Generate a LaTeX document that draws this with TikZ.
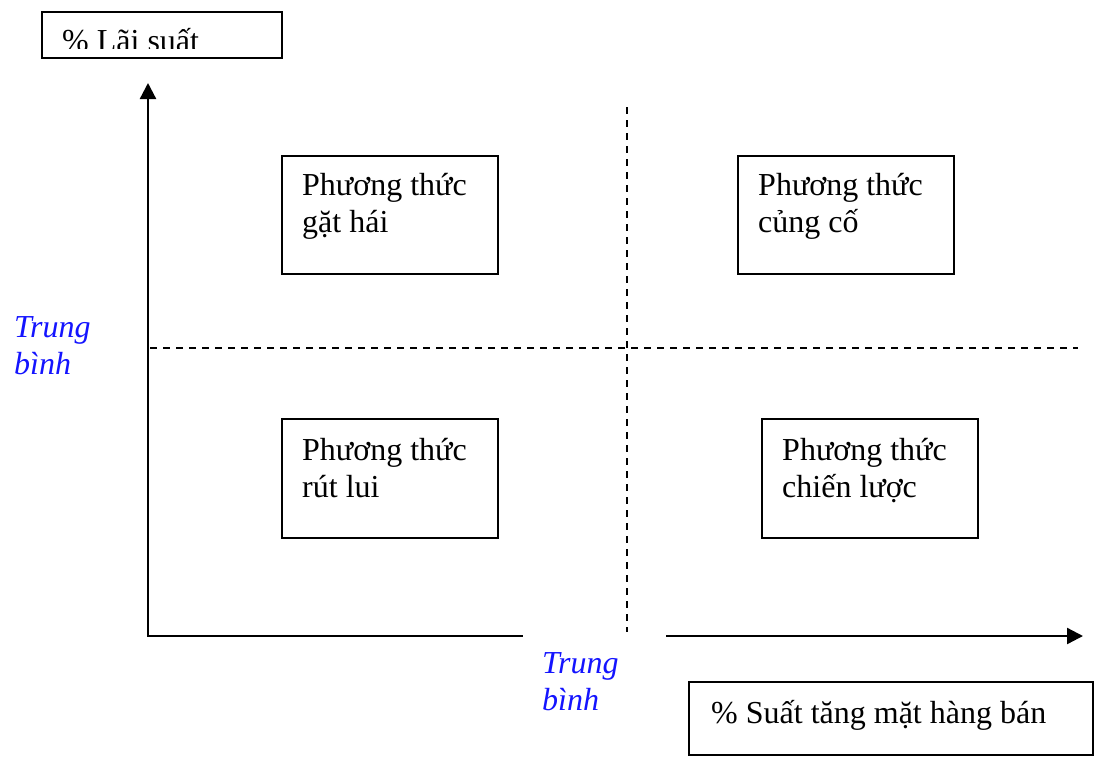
\documentclass[tikz,border=0pt]{standalone}
\usepackage{fontspec}
\setmainfont{Liberation Serif}
\usetikzlibrary{arrows.meta}
\definecolor{lblblue}{RGB}{20,20,255}
\begin{document}
\begin{tikzpicture}[x=1pt,y=-1pt,
  boxnode/.style={draw=black,line width=2.3pt,inner sep=0pt,outer sep=0pt,anchor=north west},
  txt/.style={inner sep=0pt,anchor=base west,font=\fontsize{32}{37}\selectfont},
  bluetxt/.style={txt,text=lblblue,font=\fontsize{32}{37}\selectfont\itshape},
  axisline/.style={line width=2.3pt,line cap=rect},
  dashline/.style={line width=1.5pt,dash pattern=on 7pt off 6pt},
  tip/.style={-{Triangle[length=16pt,width=16pt]}}]
\useasboundingbox (0,0) rectangle (1095,761);
\fill[white] (0,0) rectangle (1095,761);

% top label box
\begin{scope}
\clip (42,12) rectangle (282,48);
\node[txt] (ytext) at (62,51) {\% Lãi suất};
\end{scope}
\node[boxnode,minimum width=240pt,minimum height=46pt] (ybox) at (42,12) {};

% axes
\coordinate (O) at (148,636);
\coordinate (ytip) at (148,83);
\coordinate (xgapL) at (522,636);
\coordinate (xgapR) at (667,636);
\coordinate (xtip) at (1083,636);
\draw[axisline] (xgapL) -- (O);
\draw[axisline,tip] (O) -- (ytip);
\draw[axisline,tip] (xgapR) -- (xtip);

% dashed median lines
\coordinate (vtop) at (627,107);
\coordinate (vbot) at (627,632);
\coordinate (hl) at (150,348);
\coordinate (hr) at (1078,348);
\draw[dashline] (vtop) -- (vbot);
\draw[dashline] (hl) -- (hr);

% quadrant boxes
\node[boxnode,minimum width=216pt,minimum height=118pt] (b1) at (282,156) {};
\node[txt] (t1) at (302,195) {\begin{tabular}[t]{@{}l@{}}Phương thức\\gặt hái\end{tabular}};
\node[boxnode,minimum width=216pt,minimum height=118pt] (b2) at (738,156) {};
\node[txt] (t2) at (758,195) {\begin{tabular}[t]{@{}l@{}}Phương thức\\củng cố\end{tabular}};
\node[boxnode,minimum width=216pt,minimum height=119pt] (b3) at (282,419) {};
\node[txt] (t3) at (302,460) {\begin{tabular}[t]{@{}l@{}}Phương thức\\rút lui\end{tabular}};
\node[boxnode,minimum width=216pt,minimum height=119pt] (b4) at (762,419) {};
\node[txt] (t4) at (782,460) {\begin{tabular}[t]{@{}l@{}}Phương thức\\chiến lược\end{tabular}};

% axis midpoint labels
\node[bluetxt] (lm) at (14,337) {\begin{tabular}[t]{@{}l@{}}Trung\\bình\end{tabular}};
\node[bluetxt] (bm) at (542,673) {\begin{tabular}[t]{@{}l@{}}Trung\\bình\end{tabular}};

% x label box
\node[boxnode,minimum width=404pt,minimum height=73pt] (xbox) at (689,682) {};
\node[txt] (xtext) at (711,723) {\% Suất tăng mặt hàng bán};
\end{tikzpicture}
\end{document}
